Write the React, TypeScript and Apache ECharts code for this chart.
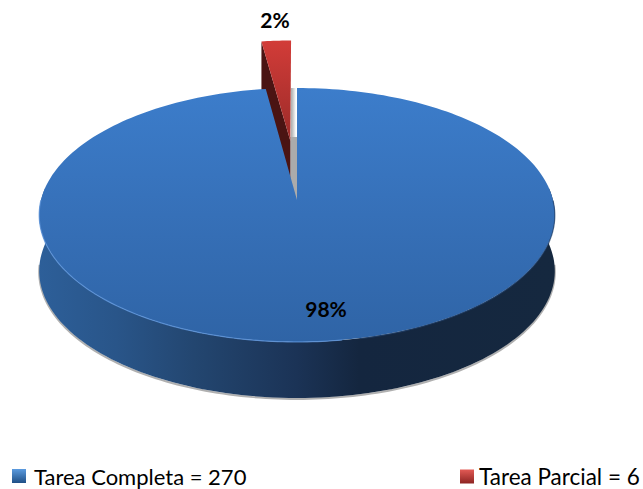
import React, { useEffect, useRef } from "react";
import * as echarts from "echarts";

const seriesNames = ["Tarea Completa = 270", "Tarea Parcial = 6"];
const seriesValues = [270, 6];
const FONT = "Lato, Carlito, Calibri, sans-serif";

// projected-disc layout
const CX = 297, CY = 200, RX = 256, RY = 125.2, K = 0.118, DEPTH = 56, EXPLODE = 0.5;
const TAU = Math.PI * 2;

const total = seriesValues.reduce((a, b) => a + b, 0);
const blueEnd = (seriesValues[0] / total) * TAU;

function project(X: number, Z: number): number[] {
  const w = 1 + K * Z;
  return [CX + (RX * X) / w, CY - (RY * Z) / w];
}
function rim(t: number, ox = 0, oz = 0): number[] {
  return project(Math.sin(t) + ox, Math.cos(t) + oz);
}
function arc(t0: number, t1: number, n: number, ox = 0, oz = 0): number[][] {
  const out: number[][] = [];
  for (let i = 0; i <= n; i++) out.push(rim(t0 + ((t1 - t0) * i) / n, ox, oz));
  return out;
}
const down = (pts: number[][], d: number) => pts.map((p) => [p[0], p[1] + d]);
const grad = (x2: number, y2: number, stops: [number, string][]) => ({
  type: "linear", x: 0, y: 0, x2, y2, colorStops: stops.map(([offset, color]) => ({ offset, color })),
});
const pctText = (v: number) => `${Math.round((v / total) * 100)}%`;
const labelStyle = (text: string, x: number, y: number) => ({
  type: "text",
  z2: 50,
  style: { text, x, y, fill: "#000", font: `bold 21px ${FONT}`, align: "center", verticalAlign: "middle" },
});

function renderBlue(_: any, api: any) {
  const v = api.value(0);
  const end = (v / total) * TAU;
  const front = arc(Math.PI * 0.47, Math.PI * 1.53, 120);
  const bottom = down(front, DEPTH).reverse();
  const apex = project(0, 0);
  return {
    type: "group",
    children: [
      { type: "polyline", shape: { points: down(arc(Math.PI * 0.52, Math.PI * 1.48, 140), DEPTH + 1) },
        style: { fill: "none", stroke: "#b0b0b0", lineWidth: 2 } },
      { type: "polygon", shape: { points: [...front, ...bottom] },
        style: { fill: grad(1, 0, [[0, "#2d5f99"], [0.15, "#295589"], [0.3, "#234670"], [0.5, "#1b3356"], [0.62, "#14263f"], [1, "#15283f"]]) } },
      { type: "polygon", shape: { points: [apex, ...arc(0, end, 240)] },
        style: { fill: grad(0, 1, [[0, "#3c7dcb"], [0.5, "#3670b8"], [1, "#2f64a6"]]) } },
      { type: "polyline", shape: { points: arc(Math.PI * 0.95, Math.PI * 1.5, 100) },
        style: { fill: "none", stroke: "#5c93d9", lineWidth: 1.2, opacity: 0.8 } },
      { type: "polyline", shape: { points: down(arc(Math.PI * 0.5, Math.PI * 0.93, 80), 0.5) },
        style: { fill: "none", stroke: "#22436f", lineWidth: 1.2, opacity: 0.7 } },
      labelStyle(pctText(v), 326, 308),
    ],
  };
}

function renderRed(_: any, api: any) {
  const v = api.value(0);
  const start = blueEnd - TAU;
  const end = start + (v / total) * TAU;
  const mid = (start + end) / 2;
  const ox = EXPLODE * Math.sin(mid) * 0.8, oz = EXPLODE * Math.cos(mid);
  const apex = project(ox, oz);
  const top = arc(start, end, 10, ox, oz);
  const left = rim(start, ox, oz);
  const right = rim(end, ox, oz);
  return {
    type: "group",
    children: [
      // inner wall seen through the gap of the big slice
      { type: "polygon", shape: { points: [[apex[0], apex[1] - 4], [CX, apex[1] - 4], [CX, CY], [apex[0], CY]] },
        style: { fill: "#ababab" } },
      { type: "polygon", shape: { points: [[right[0], CY - RY / (1 + K)], [right[0] + 5, CY - RY / (1 + K)], [right[0] + 5, apex[1] - 4], [right[0], apex[1] - 4]] },
        style: { fill: grad(1, 0, [[0, "#a8a8a8"], [1, "#ffffff"]]) } },
      { type: "polygon", shape: { points: [left, [left[0], left[1] + DEPTH], [apex[0], apex[1] + DEPTH], apex] },
        style: { fill: "#4a1413" } },
      { type: "polygon", shape: { points: [apex, ...top] },
        style: { fill: grad(0, 1, [[0, "#d23c38"], [1, "#9b2b29"]]) } },
      labelStyle(pctText(v), 275, 19),
    ],
  };
}

const common = { type: "custom", coordinateSystem: "none", silent: true, clip: false };
const legendBase = { top: 465, padding: 0, itemWidth: 14, itemHeight: 14, itemGap: 4, icon: "rect" };
const legendText = (leftPad: number, fontSize: number) => ({
  fontFamily: FONT, fontSize, color: "#000", padding: [0, 0, 0, leftPad],
});

export default function App() {
  const ref = useRef<HTMLDivElement>(null);
  useEffect(() => {
    const chart = echarts.init(ref.current!, undefined, { renderer: "svg" });
    chart.setOption({
      animation: false,
      backgroundColor: "#fff",
      legend: [
        { ...legendBase, left: 12, textStyle: legendText(3, 22), data: [{ name: seriesNames[0], itemStyle: { color: grad(0, 1, [[0, "#5b9bdf"], [1, "#1f4f86"]]) } }] },
        { ...legendBase, left: 460, textStyle: legendText(0, 22.5), data: [{ name: seriesNames[1], itemStyle: { color: grad(0, 1, [[0, "#e25a55"], [1, "#8d2422"]]) } }] },
      ],
      series: [
        { ...common, name: seriesNames[1], z: 1, color: "#c0392f", data: [[seriesValues[1]]], renderItem: renderRed },
        { ...common, name: seriesNames[0], z: 2, color: "#3670b8", data: [[seriesValues[0]]], renderItem: renderBlue },
      ],
    });
    return () => chart.dispose();
  }, []);
  return <div ref={ref} style={{ position: "fixed", left: 0, top: 0, width: 643, height: 489 }} />;
}
